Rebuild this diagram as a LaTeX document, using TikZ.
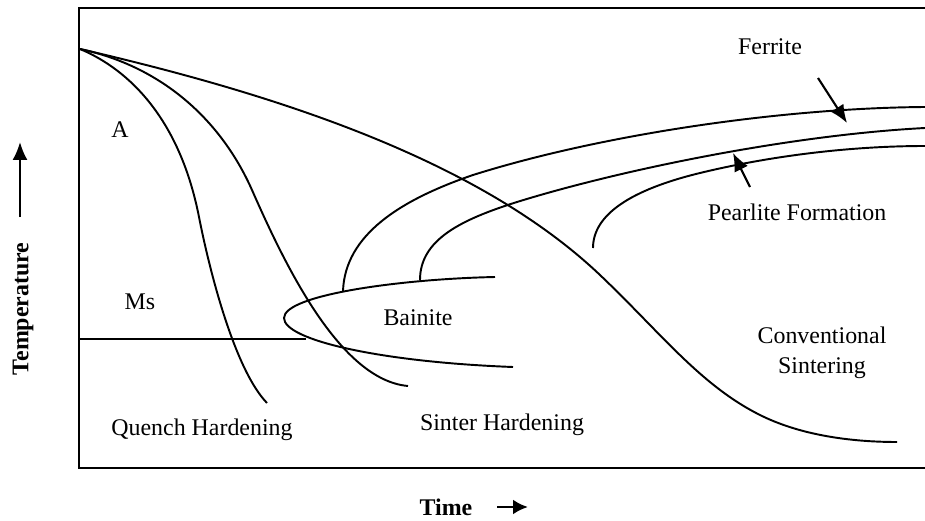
\documentclass[tikz,border=0pt]{standalone}
\usepackage{fontspec}
\setmainfont{Liberation Serif}
\usetikzlibrary{arrows.meta, positioning}

\begin{document}
\begin{tikzpicture}[
    x=0.02cm, y=-0.02cm,
    curve/.style={line width=1.1pt, line join=round},
    lbl/.style={font=\fontsize{13.6}{17}\selectfont, inner sep=1pt},
    axlbl/.style={font=\fontsize{13.6}{17}\selectfont\bfseries, inner sep=1pt},
    ptr/.style={-{Latex[length=3.6mm, width=3mm]}, line width=1.2pt}
]
    \useasboundingbox (0,0) rectangle (925,520);

    % frame (right side runs off the picture)
    \draw[line width=1.5pt] (925,8) -- (79,8) -- (79,468) -- (925,468);

    % cooling curves, all leaving the austenite point
    \coordinate (start) at (80,49);
    \draw[curve] (start) .. controls (130,70) and (180,120) .. (199,217)
                         .. controls (210,273) and (235,370) .. (267,403);   % quench
    \draw[curve] (start) .. controls (160,66) and (220,118) .. (252,190)
                         .. controls (285,265) and (340,380) .. (408,386);   % sinter
    \draw[curve] (start) .. controls (280,95) and (480,161) .. (600,275)
                         .. controls (660,332) and (700,385) .. (760,415)
                         .. controls (800,435) and (850,442) .. (897,442);   % conventional

    % transformation curves
    \draw[curve] (495,277) .. controls (400,279) and (284,295) .. (284,318)
                           .. controls (284,340) and (380,362) .. (513,367);   % bainite nose
    \draw[curve] (343,291) .. controls (345,235) and (400,200) .. (473,175)
                           .. controls (600,135) and (780,108) .. (925,107);   % ferrite
    \draw[curve] (420,280) .. controls (420,240) and (460,220) .. (517,202)
                           .. controls (620,170) and (790,135) .. (925,128);
    \draw[curve] (593,248) .. controls (593,215) and (630,190) .. (700,173)
                           .. controls (770,156) and (850,146) .. (925,146);   % pearlite

    % Ms line
    \coordinate (ms0) at (79,339);
    \coordinate (ms1) at (306,339);
    \draw[curve] (ms0) -- (ms1);

    % labels
    \node[lbl] (a)      at (120,130) {A};
    \node[lbl] (ms)     at (140,302) {Ms};
    \node[lbl] (quench) at (202,430) {Quench Hardening};
    \node[lbl] (bain)   at (418,318) {Bainite};
    \node[lbl] (sinter) at (502,425) {Sinter Hardening};
    \node[lbl, align=center] (conv) at (822,353) {Conventional\\Sintering};
    \node[lbl] (ferr)   at (770,47)  {Ferrite};
    \node[lbl] (pearl)  at (797,212) {Pearlite Formation};
    \node[axlbl, rotate=90] (temp) at (23,309) {Temperature};
    \node[axlbl] (time) at (446,507) {Time};

    % pointers
    \coordinate (f0) at (818,78);
    \coordinate (f1) at (847,123);
    \coordinate (p0) at (750,187);
    \coordinate (p1) at (733,153);
    \draw[ptr] (f0) -- (f1);
    \draw[ptr] (p0) -- (p1);

    % axis arrows
    \coordinate (t0) at (20,217);
    \coordinate (t1) at (20,142);
    \coordinate (s0) at (497,507);
    \coordinate (s1) at (528,507);
    \draw[ptr] (t0) -- (t1);
    \draw[-{Latex[length=3mm, width=3mm]}, line width=1.6pt] (s0) -- (s1);
\end{tikzpicture}
\end{document}
